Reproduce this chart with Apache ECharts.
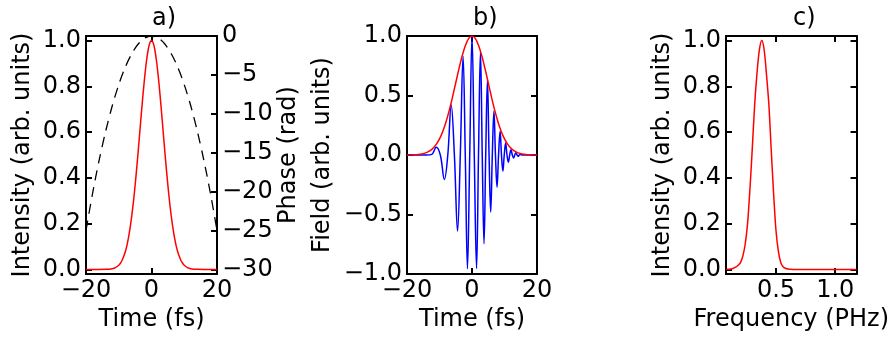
<!DOCTYPE html>
<html>
<head>
<meta charset="utf-8">
<script src="https://cdn.jsdelivr.net/npm/echarts@6/dist/echarts.min.js"></script>
<style>
html,body{margin:0;padding:0;background:#fff;}
#chart{width:892px;height:338px;}
</style>
</head>
<body>
<div id="chart"></div>
<script>
// ---- Panel a: intensity and phase vs time ----
var intensityTime = [-20,-18,-16,-14,-13,-12,-11,-10,-9.5,-9,-8.5,-8,-7.5,-7,-6.5,-6,-5.5,-5,-4.5,-4,-3.5,-3,-2.5,-2,-1.5,-1,-0.5,0,0.5,1,1.5,2,2.5,3,3.5,4,4.5,5,5.5,6,6.5,7,7.5,8,8.5,9,9.5,10,11,12,13,14,16,18,20];
var intensityVal  = [0,0,0,0.0004,0.001,0.003,0.008,0.018,0.027,0.039,0.056,0.077,0.105,0.141,0.185,0.237,0.298,0.368,0.445,0.527,0.613,0.698,0.779,0.852,0.914,0.961,0.990,1.0,0.990,0.961,0.914,0.852,0.779,0.698,0.613,0.527,0.445,0.368,0.298,0.237,0.185,0.141,0.105,0.077,0.056,0.039,0.027,0.018,0.008,0.003,0.001,0.0004,0,0,0];
var phaseTime = [-20,-18,-16,-14,-12,-10,-8,-6,-4,-2,0,2,4,6,8,10,12,14,16,18,20];
var phaseVal  = [-25,-20.25,-16,-12.25,-9,-6.25,-4,-2.25,-1,-0.25,0,-0.25,-1,-2.25,-4,-6.25,-9,-12.25,-16,-20.25,-25];

// ---- Panel b: field and envelope vs time ----
var fieldTime = [-20,-14,-12.4,-11.0,-9.75,-8.5,-7.45,-6.4,-5.42,-4.45,-3.6,-2.75,-2.07,-1.4,-0.7,0,0.7,1.4,2.0,2.6,3.15,3.7,4.22,4.75,5.25,5.75,6.25,6.75,7.22,7.7,8.17,8.65,9.07,9.5,9.92,10.35,10.77,11.2,11.6,12.0,12.4,12.8,13.15,13.5,13.87,14.25,14.57,14.9,15.4,20];
var fieldVal  = [0,0,0.005,0.065,0,-0.205,0,0.42,0,-0.64,0,0.83,0,-0.955,0,1.0,0,-0.955,0,0.87,0,-0.745,0,0.63,0,-0.48,0,0.37,0,-0.27,0,0.2,0,-0.135,0,0.1,0,-0.06,0,0.045,0,-0.025,0,0.018,0,-0.01,0,0.004,0,0];
var envTime = [-20,-19,-18,-17,-16,-15,-14,-13,-12,-11,-10,-9,-8,-7,-6,-5,-4,-3,-2,-1,0,1,2,3,4,5,6,7,8,9,10,11,12,13,14,15,16,17,18,19,20];
var envVal  = [0,0.001,0.002,0.003,0.006,0.011,0.020,0.034,0.056,0.089,0.135,0.198,0.278,0.375,0.487,0.607,0.726,0.835,0.923,0.980,1.0,0.980,0.923,0.835,0.726,0.607,0.487,0.375,0.278,0.198,0.135,0.089,0.056,0.034,0.020,0.011,0.006,0.003,0.002,0.001,0];

// ---- Panel c: spectrum ----
var freq = [0.08,0.10,0.12,0.14,0.16,0.18,0.20,0.22,0.24,0.26,0.28,0.30,0.32,0.34,0.36,0.38,0.40,0.42,0.44,0.46,0.48,0.50,0.52,0.54,0.56,0.58,0.60,0.62,0.66,0.70,0.80,0.90,1.00,1.10,1.18];
var spec = [0,0.001,0.002,0.005,0.010,0.018,0.030,0.058,0.11,0.20,0.35,0.53,0.72,0.86,0.96,1.0,0.96,0.85,0.72,0.52,0.33,0.17,0.08,0.03,0.012,0.005,0.002,0.001,0,0,0,0,0,0,0];

// ---- tick labels ----
var timeTicks = [-20,0,20];
var intensityTicks = [0,0.2,0.4,0.6,0.8,1.0];
var phaseTicks = [0,-5,-10,-15,-20,-25,-30];
var fieldTicks = [-1,-0.5,0,0.5,1];
var freqTicks = [0.5,1.0];
var panelTitles = ['a)','b)','c)'];

function zip(a,b){return a.map(function(v,i){return [v,b[i]];});}
function minus(s){return String(s).replace('-', '\u2212');}
var F = 'DejaVu Sans';
var FS = 24;

function xAx(grid, min, max, ticks, fmt, name, top){
  return {
    type:'value', gridIndex:grid, min:min, max:max, position: top?'top':'bottom',
    splitLine:{show:false},
    axisLine:{show:true, onZero:false, lineStyle:{color:'#000', width:2}},
    axisTick:{show:true, inside:true, length:6, customValues:ticks, lineStyle:{color:'#000', width:2}},
    axisLabel:{show:!top, customValues:ticks, margin:5, color:'#000', fontFamily:F, fontSize:FS, formatter:fmt},
    name: top?'':name, nameLocation:'middle', nameGap:31,
    nameTextStyle:{color:'#000', fontFamily:F, fontSize:FS}
  };
}
function yAx(grid, min, max, ticks, fmt, name, right, showLabel, gap){
  return {
    type:'value', gridIndex:grid, min:min, max:max, position: right?'right':'left',
    splitLine:{show:false},
    axisLine:{show:true, onZero:false, lineStyle:{color:'#000', width:2}},
    axisTick:{show:true, inside:true, length:6, customValues:ticks, lineStyle:{color:'#000', width:2}},
    axisLabel:{show:showLabel, customValues:ticks, margin:5, color:'#000', fontFamily:F, fontSize:FS, formatter:fmt},
    name: name||'', nameLocation:'middle', nameGap:gap||0,
    nameTextStyle:{color:'#000', fontFamily:F, fontSize:FS}
  };
}
var fmtInt = function(v){return minus(Math.round(v));};
var fmt1 = function(v){return minus(v.toFixed(1));};
var titleLeft = [152, 473, 793];

var chart = echarts.init(document.getElementById('chart'), null, {renderer:'canvas'});
chart.setOption({
  animation:false,
  backgroundColor:'#fff',
  title: panelTitles.map(function(t,i){
    return {text:t, left:titleLeft[i], top:7, padding:0, textStyle:{fontFamily:F, fontSize:FS, fontWeight:'normal', color:'#000'}};
  }),
  grid:[
    {left:86, right:675, top:36, bottom:64},
    {left:407, right:355, top:36, bottom:64},
    {left:726, right:34, top:36, bottom:64}
  ],
  xAxis:[
    xAx(0,-20,20,timeTicks,fmtInt,'Time (fs)',false),
    xAx(0,-20,20,timeTicks,fmtInt,'',true),
    xAx(1,-20,20,timeTicks,fmtInt,'Time (fs)',false),
    xAx(1,-20,20,timeTicks,fmtInt,'',true),
    xAx(2,0.078,1.18,freqTicks,fmt1,'Frequency (PHz)',false),
    xAx(2,0.078,1.18,freqTicks,fmt1,'',true)
  ],
  yAxis:[
    yAx(0,-0.02,1.02,intensityTicks,fmt1,'Intensity (arb. units)',false,true,51),
    yAx(0,-30.6,0,phaseTicks,fmtInt,'Phase (rad)',true,true,60),
    yAx(1,-1,1,fieldTicks,fmt1,'Field (arb. units)',false,true,72),
    yAx(1,-1,1,fieldTicks,fmt1,'',true,false,0),
    yAx(2,-0.02,1.02,intensityTicks,fmt1,'Intensity (arb. units)',false,true,51),
    yAx(2,-0.02,1.02,intensityTicks,fmt1,'',true,false,0)
  ],
  series:[
    {type:'line', xAxisIndex:0, yAxisIndex:0, data:zip(intensityTime,intensityVal), smooth:0.3, showSymbol:false, lineStyle:{color:'#ff0000', width:1.5}},
    {type:'line', xAxisIndex:0, yAxisIndex:1, data:zip(phaseTime,phaseVal), smooth:0.3, showSymbol:false, lineStyle:{color:'#000', width:1.3, type:[10,7]}},
    {type:'line', xAxisIndex:2, yAxisIndex:2, data:zip(fieldTime,fieldVal), smooth:0.4, showSymbol:false, lineStyle:{color:'#0000ff', width:1.5}},
    {type:'line', xAxisIndex:2, yAxisIndex:2, data:zip(envTime,envVal), smooth:0.3, showSymbol:false, lineStyle:{color:'#ff0000', width:1.5}},
    {type:'line', xAxisIndex:4, yAxisIndex:4, data:zip(freq,spec), smooth:0.3, showSymbol:false, lineStyle:{color:'#ff0000', width:1.5}}
  ]
});
</script>
</body>
</html>
